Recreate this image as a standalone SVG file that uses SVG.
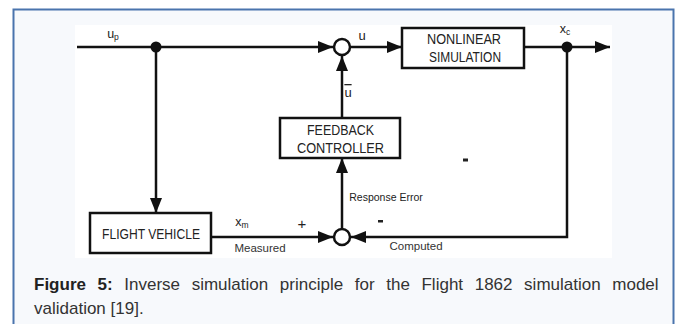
<svg xmlns="http://www.w3.org/2000/svg" width="677" height="324" viewBox="0 0 677 324">
<defs>
<marker id="arr" markerUnits="userSpaceOnUse" markerWidth="16" markerHeight="12" refX="15" refY="6" orient="auto">
<path d="M0,0 L15,6 L0,12 Z" fill="#111"/>
</marker>
<style>
.ln{fill:none;stroke:#111;stroke-width:2.5}
.bx{fill:#fff;stroke:#111;stroke-width:2.5}
.t{font-family:"Liberation Sans",Arial,sans-serif;fill:#222;text-anchor:middle}
.bt{font-size:14px}
.lb{font-size:11.5px;fill:#333}
.cap{font-family:"Liberation Sans",Arial,sans-serif;font-size:17px;fill:#333}
</style>
</defs>
<rect x="0" y="0" width="677" height="324" fill="#fff"/>
<rect x="13.5" y="9.5" width="660" height="330" fill="#f7f9fc" stroke="#4a74ad" stroke-width="2"/>
<rect x="75" y="25" width="537" height="233" fill="#fff"/>

<g id="connectors">
<line class="ln" x1="77" y1="47" x2="333" y2="47" marker-end="url(#arr)"/>
<line class="ln" x1="351" y1="47" x2="402" y2="47" marker-end="url(#arr)"/>
<line class="ln" x1="524" y1="47" x2="610" y2="47" marker-end="url(#arr)"/>
<line class="ln" x1="156" y1="47" x2="156" y2="213" marker-end="url(#arr)"/>
<polyline class="ln" points="567,47 567,237 351,237" marker-end="url(#arr)"/>
<line class="ln" x1="211" y1="237" x2="333" y2="237" marker-end="url(#arr)"/>
<line class="ln" x1="342" y1="228" x2="342" y2="158" marker-end="url(#arr)"/>
<line class="ln" x1="342" y1="118" x2="342" y2="56" marker-end="url(#arr)"/>
<circle cx="156" cy="47" r="5.5" fill="#111"/>
<circle cx="567" cy="47" r="5.5" fill="#111"/>
</g>

<g id="sum_top"><circle class="bx" cx="342" cy="47" r="8"/></g>
<g id="sum_bottom"><circle class="bx" cx="342" cy="237" r="8"/></g>

<g id="nonlinear_simulation">
<rect class="bx" x="402" y="28" width="122" height="40"/>
<text class="t bt" x="464" y="44" textLength="74" lengthAdjust="spacingAndGlyphs">NONLINEAR</text>
<text class="t bt" x="465" y="62" textLength="72" lengthAdjust="spacingAndGlyphs">SIMULATION</text>
</g>

<g id="feedback_controller">
<rect class="bx" x="280" y="118" width="120" height="40"/>
<text class="t bt" x="340.5" y="135" textLength="67" lengthAdjust="spacingAndGlyphs">FEEDBACK</text>
<text class="t bt" x="340.5" y="153" textLength="87" lengthAdjust="spacingAndGlyphs">CONTROLLER</text>
</g>

<g id="flight_vehicle">
<rect class="bx" x="90" y="213" width="121" height="40"/>
<text class="t bt" x="151" y="238.5" textLength="98" lengthAdjust="spacingAndGlyphs">FLIGHT VEHICLE</text>
</g>

<g id="labels">
<text class="t" font-size="12.5" x="113" y="38">u<tspan font-size="8.5" dy="2">p</tspan></text>
<text class="t" font-size="13" x="362" y="40">u</text>
<text class="t" font-size="12.5" x="565" y="33">x<tspan font-size="8.5" dy="2">c</tspan></text>
<text class="t" font-size="13" x="348" y="97" text-decoration="overline">u</text>
<text class="t" font-size="12.5" x="242" y="226">x<tspan font-size="8.5" dy="2">m</tspan></text>
<text class="t" font-size="15" x="302" y="229">+</text>
<text class="t lb" x="260" y="252">Measured</text>
<text class="t lb" x="416" y="250">Computed</text>
<text class="t" font-size="10.5" fill="#333" x="386" y="201">Response Error</text>
<rect x="378" y="220" width="5" height="2.5" fill="#222"/>
<rect x="463" y="158.5" width="5" height="3" fill="#222"/>
</g>

<g id="caption">
<text class="cap" x="34" y="290" word-spacing="6.9"><tspan font-weight="bold" fill="#222">Figure 5:</tspan> Inverse simulation principle for the Flight 1862 simulation model</text>
<text class="cap" x="34" y="314">validation [19].</text>
</g>
</svg>
